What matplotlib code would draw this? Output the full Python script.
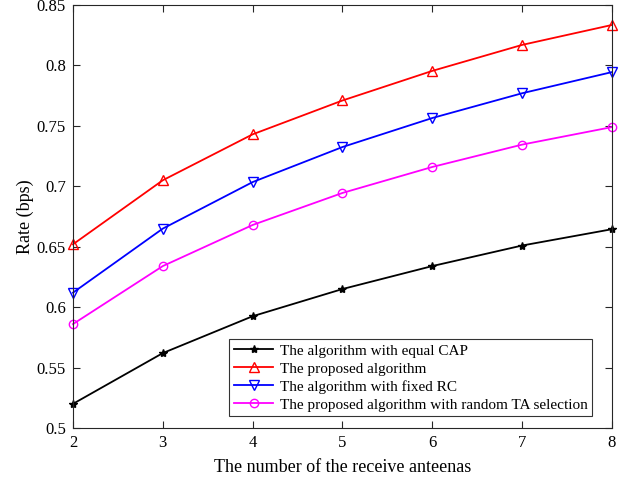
import matplotlib.pyplot as plt

plt.rcParams['font.family'] = ['Liberation Serif', 'DejaVu Serif']

antennas = [2, 3, 4, 5, 6, 7, 8]
equal_cap = [0.520, 0.562, 0.5925, 0.615, 0.634, 0.651, 0.6645]
proposed = [0.652, 0.705, 0.743, 0.771, 0.7955, 0.817, 0.8335]
fixed_rc = [0.612, 0.665, 0.7035, 0.7325, 0.7565, 0.777, 0.7945]
random_ta = [0.586, 0.634, 0.668, 0.6945, 0.716, 0.7345, 0.749]

fig = plt.figure(figsize=(6.28, 4.82), dpi=100)
ax = fig.add_axes([0.1162, 0.112, 0.8583, 0.8776])

ax.plot(antennas, equal_cap, color='k', marker='*', markersize=6, lw=1.3,
        clip_on=False, label='The algorithm with equal CAP')
ax.plot(antennas, proposed, color='#ff0000', marker='^', markersize=7, mfc='none', lw=1.3,
        clip_on=False, label='The proposed algorithm')
ax.plot(antennas, fixed_rc, color='#0000ff', marker='v', markersize=7, mfc='none', lw=1.3,
        clip_on=False, label='The algorithm with fixed RC')
ax.plot(antennas, random_ta, color='#ff00ff', marker='o', markersize=6, mfc='none', lw=1.3,
        clip_on=False, label='The proposed algorithm with random TA selection')

ax.set_xlim(2, 8)
ax.set_ylim(0.5, 0.85)
ax.set_xticks(antennas)
ax.set_yticks([0.5, 0.55, 0.6, 0.65, 0.7, 0.75, 0.8, 0.85])
ax.set_yticklabels(['0.5', '0.55', '0.6', '0.65', '0.7', '0.75', '0.8', '0.85'])
ax.tick_params(direction='in', top=True, right=True, labelsize=12, length=5,
               color='#262626', pad=5)
for s in ax.spines.values():
    s.set_color('#262626')
    s.set_linewidth(0.8)

ax.set_xlabel('The number of the receive anteenas', fontsize=13, labelpad=6)
ax.set_ylabel('Rate (bps)', fontsize=13, labelpad=2)

leg = ax.legend(loc='lower right', bbox_to_anchor=(0.963, 0.028), fontsize=11,
                frameon=True, fancybox=False, edgecolor='k', borderaxespad=0,
                handlelength=2.6, labelspacing=0.28, borderpad=0.3, handletextpad=0.4)
leg.get_frame().set_linewidth(0.8)

plt.savefig('out.png', dpi=100)
